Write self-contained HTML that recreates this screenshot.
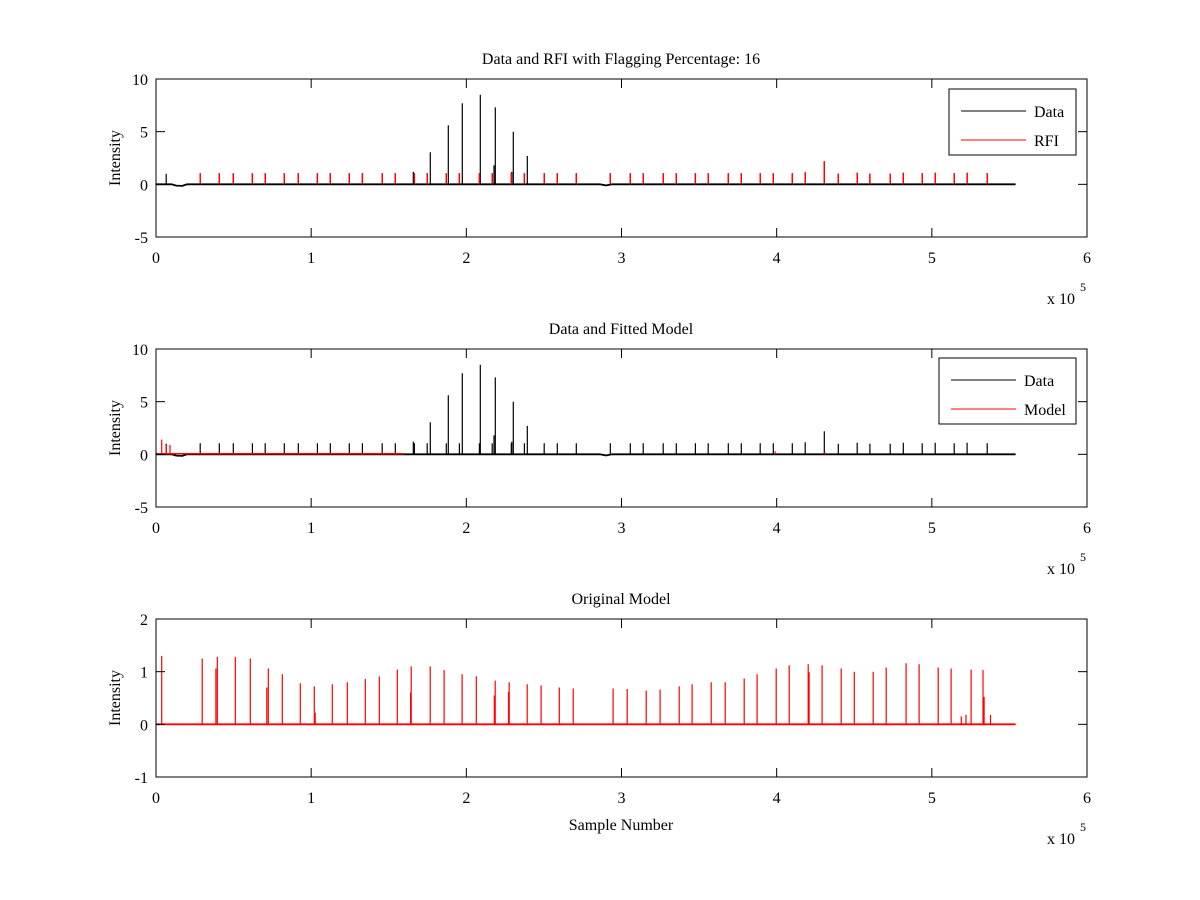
<!DOCTYPE html>
<html><head><meta charset="utf-8">
<style>
html,body{margin:0;padding:0;background:#fff;}
svg{display:block;font-family:"Liberation Serif",serif;}
text{font-size:16px;fill:#000;}
</style></head>
<body>
<svg id="fig" width="1200" height="900" viewBox="0 0 1200 900" xmlns="http://www.w3.org/2000/svg">
<rect width="1200" height="900" fill="#fff"/>
</svg>
<script>
// ---- data (x in units of 1e5 samples) ----
const rfiPos=[0.285,0.408,0.498,0.621,0.704,0.827,0.917,1.040,1.123,1.246,1.330,1.458,1.542,1.665,1.748,1.871,1.955,2.084,2.167,2.290,2.374,2.502,2.586,2.709,2.928,3.057,3.140,3.269,3.353,3.476,3.559,3.688,3.772,3.894,3.978,4.101,4.184,4.307,4.397,4.519,4.601,4.732,4.816,4.938,5.022,5.144,5.227,5.357];
const rfiVal=[1.05,1.05,1.05,1.05,1.05,1.05,1.05,1.05,1.05,1.05,1.05,1.05,1.05,1.05,1.05,1.05,1.05,1.05,1.05,1.05,1.05,1.05,1.05,1.05,1.05,1.05,1.05,1.05,1.05,1.05,1.05,1.05,1.05,1.05,1.05,1.05,1.15,2.2,1.0,1.1,1.0,1.0,1.1,1.05,1.1,1.05,1.1,1.05];
const astroPos=[0.066,1.658,1.768,1.884,1.974,2.090,2.178,2.187,2.293,2.303,2.393];
const astroVal=[1.0,1.2,3.05,5.6,7.7,8.5,1.8,7.3,1.2,5.0,2.7];
const dipPos=[0.10,0.13,0.17,0.20,2.86,2.90,2.94];
const dipVal=[0,-0.12,-0.15,0,0,-0.1,0];
const modelFitPos=[0.037,0.066,0.090,3.99,4.31];
const modelFitVal=[1.4,0.9,0.9,0.3,0.2];
const origPos=[0.037,0.298,0.395,0.511,0.608,0.724,0.814,0.930,1.020,1.136,1.233,1.349,1.439,1.555,1.645,1.767,1.857,1.973,2.064,2.186,2.276,2.392,2.482,2.599,2.689,2.946,3.037,3.159,3.249,3.372,3.455,3.578,3.668,3.791,3.874,3.997,4.081,4.203,4.293,4.416,4.500,4.622,4.706,4.834,4.918,5.041,5.124,5.253,5.330];
const origVal=[1.30,1.25,1.28,1.28,1.25,1.06,0.95,0.78,0.72,0.76,0.80,0.86,0.91,1.04,1.10,1.10,1.03,0.95,0.91,0.83,0.80,0.76,0.74,0.70,0.68,0.68,0.67,0.64,0.66,0.72,0.76,0.80,0.80,0.87,0.95,1.06,1.12,1.14,1.12,1.06,1.00,1.00,1.08,1.16,1.14,1.08,1.06,1.04,1.03];
const origSubPos=[0.386,0.714,1.026,1.641,2.180,2.272,4.209,5.190,5.220,5.337,5.378];
const origSubVal=[1.06,0.70,0.22,0.60,0.55,0.62,0.99,0.15,0.18,0.52,0.18];
const xTicks=[0,1,2,3,4,5,6];
const yTicksA=[-5,0,5,10];
const yTicksC=[-1,0,1,2];
const traceEnd=5.54;

const NS="http://www.w3.org/2000/svg";
const svg=document.getElementById('fig');
function mk(tag,attrs,parent){const e=document.createElementNS(NS,tag);for(const k in attrs)e.setAttribute(k,attrs[k]);(parent||svg).appendChild(e);return e;}
const X0=156,X1=1087;
function xs(v){return X0+(v-0)/(6-0)*(X1-X0);}

function panel(cfg){
  const g=mk('g',{});
  
  
  const ys=v=>cfg.y1-(v-cfg.ymin)/(cfg.ymax-cfg.ymin)*(cfg.y1-cfg.y0);
  cfg.draw(g,ys);
  const box=mk('rect',{x:X0,y:cfg.y0,width:X1-X0,height:cfg.y1-cfg.y0,fill:'none',stroke:'#000','stroke-width':1},g);
  
  
  xTicks.forEach(t=>{
    const x=xs(t);
    mk('line',{x1:x,x2:x,y1:cfg.y1,y2:cfg.y1-9,stroke:'#000'},g);
    mk('line',{x1:x,x2:x,y1:cfg.y0,y2:cfg.y0+9,stroke:'#000'},g);
    const tx=mk('text',{x:x,y:cfg.y1+26,'text-anchor':'middle'},g);
    tx.textContent=t;
    
    
  });
  cfg.yt.forEach(t=>{
    const y=ys(t);
    mk('line',{x1:X0,x2:X0+9,y1:y,y2:y,stroke:'#000'},g);
    mk('line',{x1:X1,x2:X1-9,y1:y,y2:y,stroke:'#000'},g);
    const tx=mk('text',{x:148,y:y+6,'text-anchor':'end'},g);
    tx.textContent=t;
    
    
  });
  const ti=mk('text',{x:621,y:cfg.y0-15,'text-anchor':'middle'},g);
  ti.textContent=cfg.title;
  
  
  const yl=mk('text',{x:0,y:0,'text-anchor':'middle',transform:`translate(120,${(cfg.y0+cfg.y1)/2}) rotate(-90)`},g);
  yl.textContent='Intensity';
  
  
  const ex=mk('text',{x:1047,y:cfg.y1+67},g);
  ex.textContent='x 10';
  
  
  const e5=mk('text',{x:1080,y:cfg.y1+54,style:'font-size:12px'},g);
  e5.textContent='5';
  
  
  if(cfg.legend){
    const L=cfg.legend;
    const lg=mk('g',{},g);
    
    
    mk('rect',{x:L.x,y:L.y,width:L.w,height:66,fill:'#fff',stroke:'#000'},lg);
    L.items.forEach((it,i)=>{
      const yy=L.y+22+i*29;
      mk('line',{x1:L.x+12,x2:L.x+77,y1:yy,y2:yy,stroke:it[1]},lg);
      const t=mk('text',{x:L.x+85,y:yy+6},lg);
      t.textContent=it[0];
      
      
    });
  }
}
function spikes(g,pos,val,ys,color,name,w){
  let d='';
  pos.forEach((p,i)=>{const x=xs(p).toFixed(1);d+=`M${x},${ys(0)}L${x},${ys(val[i]).toFixed(1)}`;});
  const p=mk('path',{d:d,stroke:color,'stroke-width':w||1.2,fill:'none'},g);
  
  
}
function baseline(g,ys,color,name,withDips){
  const pts=[[0,0]];
  if(withDips){dipPos.forEach((p,i)=>pts.push([p,dipVal[i]]));}
  pts.push([traceEnd,0]);
  pts.sort((a,b)=>a[0]-b[0]);
  const d='M'+pts.map(q=>`${xs(q[0]).toFixed(1)},${ys(q[1]).toFixed(1)}`).join('L');
  const p=mk('path',{d:d,stroke:color,'stroke-width':1.8,fill:'none'},g);
  
  
}
// panel A
panel({name:'panel-data-rfi',y0:79,y1:237,ymin:-5,ymax:10,yt:yTicksA,title:'Data and RFI with Flagging Percentage: 16',
  legend:{x:949,y:89,w:127,items:[['Data','#000'],['RFI','#f00']]},
  draw:(g,ys)=>{
    baseline(g,ys,'#000','data-baseline',true);
    spikes(g,rfiPos,rfiVal,ys,'#000','data-rfi-spikes');
    spikes(g,astroPos,astroVal,ys,'#000','data-spikes');
    spikes(g,rfiPos,rfiVal,ys,'#f00','rfi-spikes',1.4);
  }});
// panel B
panel({name:'panel-data-model',y0:349,y1:507,ymin:-5,ymax:10,yt:yTicksA,title:'Data and Fitted Model',
  legend:{x:939,y:358,w:137,items:[['Data','#000'],['Model','#f00']]},
  draw:(g,ys)=>{
    baseline(g,ys,'#000','data-baseline',true);
    spikes(g,rfiPos,rfiVal,ys,'#000','data-rfi-spikes');
    spikes(g,astroPos,astroVal,ys,'#000','data-spikes');
    const p=mk('path',{d:`M${xs(0)},${ys(0.05)}L${xs(1.6)},${ys(0.05)}`,stroke:'#f00','stroke-width':1.5,fill:'none'},g);
    
    
    spikes(g,modelFitPos,modelFitVal,ys,'#f00','model-spikes');
  }});
// panel C
panel({name:'panel-original-model',y0:619,y1:777,ymin:-1,ymax:2,yt:yTicksC,title:'Original Model',
  draw:(g,ys)=>{
    baseline(g,ys,'#f00','model-baseline',false);
    spikes(g,origPos,origVal,ys,'#f00','model-spikes');
    spikes(g,origSubPos,origSubVal,ys,'#f00','model-sub-spikes');
  }});
const xl=mk('text',{x:621,y:830,'text-anchor':'middle'});
xl.textContent='Sample Number';


</script>
</body></html>
